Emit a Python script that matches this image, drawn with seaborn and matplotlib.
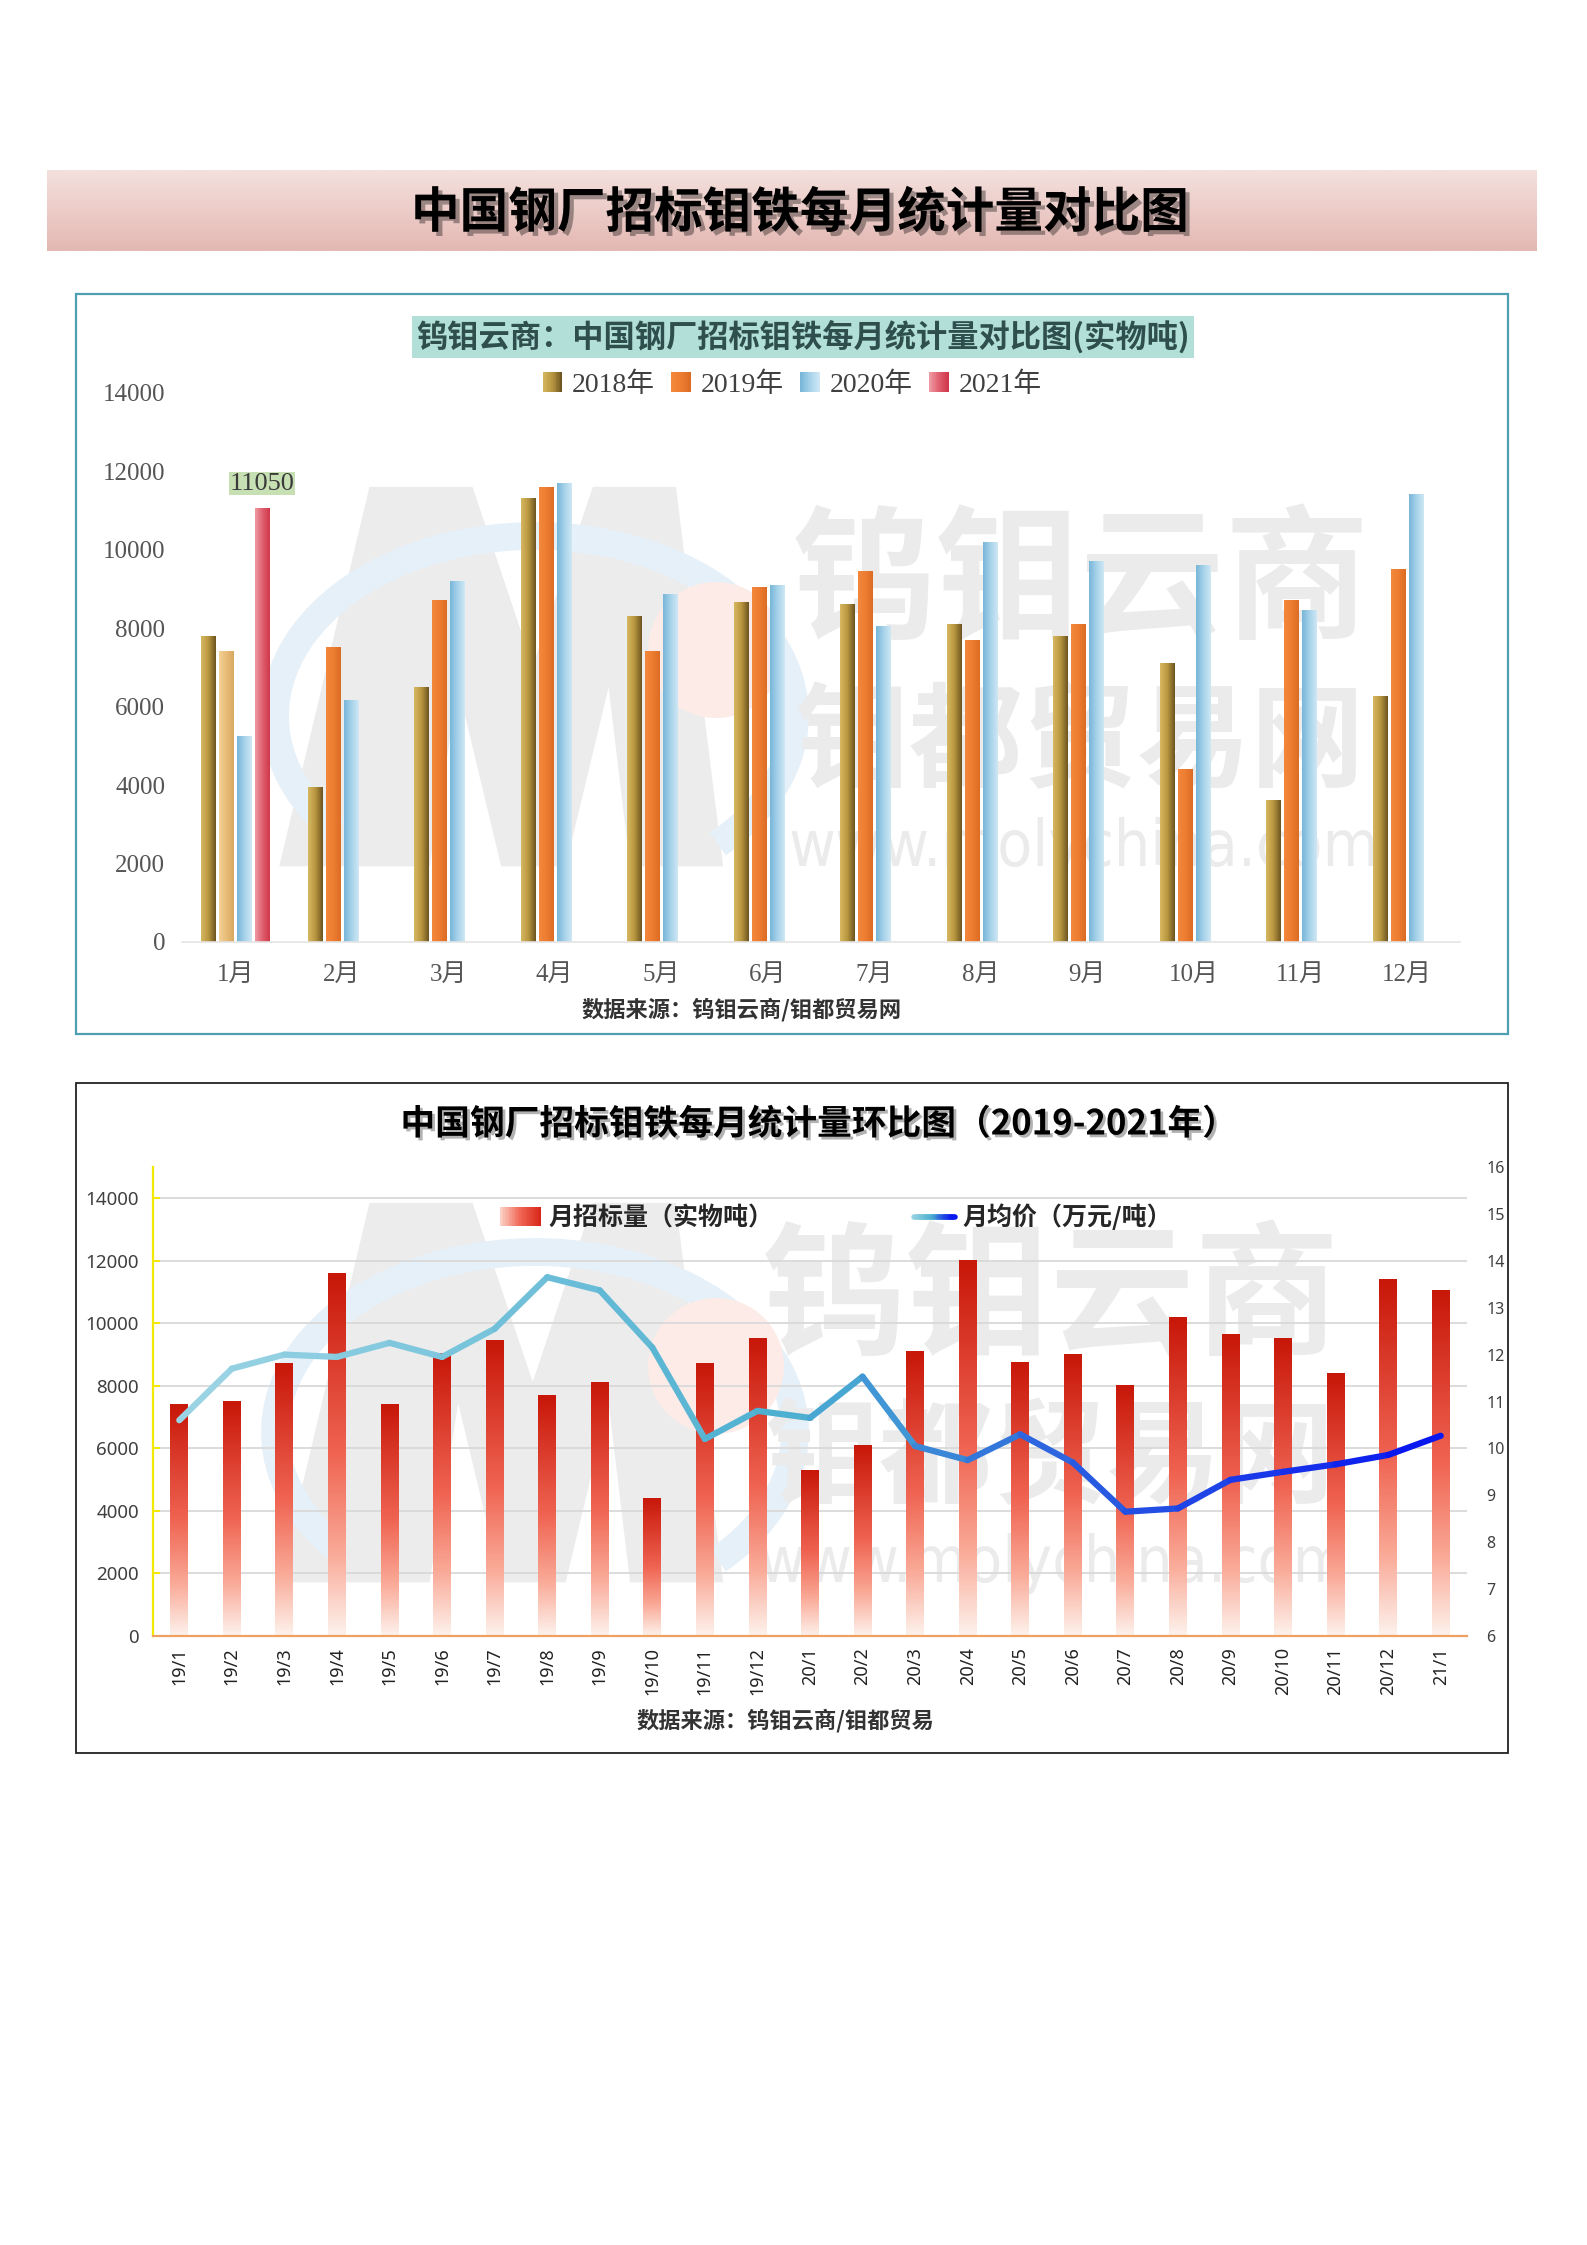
import matplotlib
matplotlib.use("Agg")

import matplotlib.pyplot as plt
import matplotlib.patheffects as pe
import numpy as np
import pandas as pd
import seaborn as sns
from matplotlib.collections import LineCollection
from matplotlib.colors import LinearSegmentedColormap
from matplotlib.legend_handler import HandlerBase
from matplotlib.patches import Arc, Circle, Polygon, Rectangle

# --------------------------------------------------------------------------- #
# Data
# --------------------------------------------------------------------------- #
MONTHS = ["1月", "2月", "3月", "4月", "5月", "6月",
          "7月", "8月", "9月", "10月", "11月", "12月"]
YEARS = ["2018年", "2019年", "2020年", "2021年"]
Y2018 = [7800, 3950, 6500, 11300, 8300, 8650, 8600, 8100, 7800, 7100, 3600, 6250]
Y2019 = [7400, 7500, 8700, 11600, 7400, 9050, 9450, 7700, 8100, 4400, 8700, 9500]
Y2020 = [5250, 6150, 9200, 11700, 8850, 9100, 8050, 10200, 9700, 9600, 8450, 11400]
Y2021 = [11050]

PERIODS = ["19/1", "19/2", "19/3", "19/4", "19/5", "19/6", "19/7", "19/8",
           "19/9", "19/10", "19/11", "19/12", "20/1", "20/2", "20/3", "20/4",
           "20/5", "20/6", "20/7", "20/8", "20/9", "20/10", "20/11", "20/12",
           "21/1"]
VOLUME = [7400, 7500, 8700, 11600, 7400, 9050, 9450, 7700, 8100, 4400, 8700,
          9500, 5300, 6100, 9100, 12000, 8750, 9000, 8000, 10200, 9650, 9500,
          8400, 11400, 11050]
PRICE = [10.6, 11.7, 12.0, 11.95, 12.25, 11.95, 12.55, 13.65, 13.37, 12.15,
         10.2, 10.8, 10.65, 11.53, 10.05, 9.75, 10.3, 9.7, 8.65, 8.72, 9.33,
         9.5, 9.66, 9.86, 10.27]

# --------------------------------------------------------------------------- #
# Style
# --------------------------------------------------------------------------- #
W, H = 1587, 2245
CJK = "Noto Sans CJK SC"
SERIF = ["Liberation Serif", CJK]
SANS = ["Noto Sans", CJK]

CMAP_2018 = LinearSegmentedColormap.from_list("g", ["#d6b860", "#b89640", "#6c5420"])
CMAP_2019 = LinearSegmentedColormap.from_list("o", ["#f3883c", "#ed7d31", "#dc6c24"])
CMAP_2019_JAN = LinearSegmentedColormap.from_list("t", ["#f4d296", "#e8bc78", "#d8a860"])
CMAP_2020 = LinearSegmentedColormap.from_list("b", ["#78b6d8", "#a6d2ea", "#cfe8f4"])
CMAP_2021 = LinearSegmentedColormap.from_list("r", ["#ee9aa2", "#e06070", "#d0384a"])
YEAR_CMAPS = dict(zip(YEARS, [CMAP_2018, CMAP_2019, CMAP_2020, CMAP_2021]))
CMAP_VOL = LinearSegmentedColormap.from_list(
    "v", [(0, "#fdf0ea"), (0.22, "#faaa98"), (0.5, "#f06452"), (1, "#c8180a")])
CMAP_PRICE = LinearSegmentedColormap.from_list(
    "p", [(0, "#9ad4e4"), (0.5, "#4aaed0"), (0.72, "#2a5ee0"), (1, "#0a18f0")])

# outline of the faint "M" logo in the watermark (shown-scale pixels)
M_LOGO = [(195, 605), (258, 340), (330, 340), (372, 465), (414, 340), (472, 340),
          (505, 605), (440, 605), (425, 480), (395, 605), (350, 605), (320, 480),
          (300, 605)]

sns.set_theme(style="white")
plt.rcParams["font.family"] = [CJK, "DejaVu Sans"]


def px_axes(fig, left, top, right, bottom):
    return fig.add_axes([left / W, 1 - bottom / H, (right - left) / W, (bottom - top) / H])


def fill_gradient(ax, bar, cmap, horizontal=True):
    x, y = bar.get_x(), bar.get_y()
    w, h = bar.get_width(), bar.get_height()
    grad = np.linspace(0, 1, 64)
    grad = grad.reshape(1, -1) if horizontal else grad.reshape(-1, 1)
    ax.imshow(grad, extent=[x, x + w, y, y + h], origin="lower", aspect="auto",
              cmap=cmap, zorder=2, interpolation="bilinear")
    bar.set_facecolor("none")
    bar.set_edgecolor("none")


class GradientHandler(HandlerBase):
    def __init__(self, cmap, horizontal=True, line=False):
        super().__init__()
        self.cmap, self.horizontal, self.line = cmap, horizontal, line

    def create_artists(self, legend, orig_handle, xdescent, ydescent, width,
                       height, fontsize, trans):
        n = 24
        if self.line:
            y = height / 2 - ydescent
            segs = [[(-xdescent + width * i / n, y), (-xdescent + width * (i + 1) / n, y)]
                    for i in range(n)]
            return [LineCollection(segs, colors=[self.cmap(i / (n - 1)) for i in range(n)],
                                   linewidths=4, capstyle="round", transform=trans)]
        arts = []
        for i in range(n):
            c = self.cmap(i / (n - 1))
            if self.horizontal:
                r = Rectangle((-xdescent + width * i / n, -ydescent), width / n * 1.1,
                              height, fc=c, ec="none", lw=0, transform=trans)
            else:
                r = Rectangle((-xdescent, -ydescent + height * i / n), width,
                              height / n * 1.1, fc=c, ec="none", lw=0, transform=trans)
            arts.append(r)
        return arts


fig = plt.figure(figsize=(W / 100, H / 100), dpi=100)
fig.patch.set_facecolor("white")

# background layer in pixel coordinates
bg = fig.add_axes([0, 0, 1, 1], zorder=0)
bg.set_xlim(0, W)
bg.set_ylim(H, 0)
bg.axis("off")

# banner
banner = np.linspace(0, 1, 64).reshape(-1, 1)
bg.imshow(banner, extent=[47, 1537, 251, 170], aspect="auto", zorder=1,
          cmap=LinearSegmentedColormap.from_list("bn", ["#f4e0dd", "#e4b8b3"]))
bg.text(800, 213, "中国钢厂招标钼铁每月统计量对比图", ha="center", va="center",
        fontsize=35, fontweight="bold", color="black", family=CJK, zorder=3,
        path_effects=[pe.SimplePatchShadow(offset=(3, -3), alpha=0.35), pe.Normal()])

# chart frames
bg.add_patch(Rectangle((76, 294), 1432, 740, fc="white", ec="#4f9fb2", lw=1.6, zorder=1))
bg.add_patch(Rectangle((76, 1083), 1432, 670, fc="white", ec="#222222", lw=1.3, zorder=1))


def watermark(dx, dy):
    s = 1.432
    bg.add_patch(Polygon([(x * s, y * s + dy) for x, y in M_LOGO], closed=True,
                         fc="#ececec", ec="none", zorder=2))
    bg.add_patch(Arc((535, 716 + dy), 520, 360, theta1=150, theta2=395,
                     color="#e6f0f9", lw=20, zorder=2))
    bg.add_patch(Circle((716, 650 + dy), 68, fc="#fcebe7", ec="none", zorder=2))
    bg.text(1081 + dx, 585 + dy, "钨钼云商", ha="center", va="center", fontsize=104,
            fontweight="bold", color="#ebebeb", family=CJK, zorder=2)
    bg.text(1081 + dx, 745 + dy, "钼都贸易网", ha="center", va="center", fontsize=82,
            fontweight="bold", color="#ebebeb", family=CJK, zorder=2)
    bg.text(1084 + dx, 848 + dy, "www.molychina.com", ha="center", va="center",
            fontsize=46, color="#ebebeb", family="DejaVu Sans", fontstretch="condensed",
            zorder=2)


watermark(0, 0)
watermark(-30, 716)

# --------------------------------------------------------------------------- #
# Chart 1 — monthly comparison by year
# --------------------------------------------------------------------------- #
rows = []
for year, vals in zip(YEARS, [Y2018, Y2019, Y2020, Y2021]):
    for m, v in zip(MONTHS, vals):
        rows.append({"month": m, "year": year, "value": v})
df1 = pd.DataFrame(rows)

ax1 = px_axes(fig, 182, 393, 1460, 942)
ax1.set_zorder(2)
ax1.patch.set_alpha(0)
sns.barplot(data=df1, x="month", y="value", hue="year", order=MONTHS,
            hue_order=YEARS, width=0.676, gap=0.2, errorbar=None, legend=False,
            palette=["#b89640", "#ed7d31", "#a6d2ea", "#e06070"], ax=ax1)
for year, container in zip(YEARS, ax1.containers):
    for i, bar in enumerate(container):
        cmap = CMAP_2019_JAN if (year == "2019年" and i == 0) else YEAR_CMAPS[year]
        fill_gradient(ax1, bar, cmap, horizontal=True)

jan21 = ax1.containers[3][0]
ax1.annotate(f"{Y2021[0]}", xy=(jan21.get_x() + jan21.get_width() / 2, Y2021[0]),
             xytext=(0, 14), textcoords="offset pixels", ha="center", va="bottom",
             fontsize=19, color="#3a3a3a", family=SERIF, annotation_clip=False,
             bbox=dict(fc="#c6e0b4", ec="none", pad=0.35))

ax1.set_xlim(-0.5, 11.5)
ax1.set_ylim(0, 14000)
ax1.set_yticks(range(0, 14001, 2000))
ax1.set_xlabel("")
ax1.set_ylabel("")
for side in ("top", "right", "left"):
    ax1.spines[side].set_visible(False)
ax1.spines["bottom"].set_color("#e4e4e4")
ax1.spines["bottom"].set_linewidth(1.2)
ax1.tick_params(axis="both", length=0, labelcolor="#555555", labelsize=18)
ax1.tick_params(axis="y", pad=12)
ax1.tick_params(axis="x", pad=16)
for lab in ax1.get_xticklabels() + ax1.get_yticklabels():
    lab.set_family(SERIF)

bg.text(803, 337, "钨钼云商：中国钢厂招标钼铁每月统计量对比图(实物吨)", ha="center",
        va="center", fontsize=22.5, fontweight="bold", color="#2f4f4f", family=CJK,
        zorder=3, bbox=dict(fc="#b2e0d9", ec="none", pad=3))

h1 = [Rectangle((0, 0), 1, 1) for _ in YEARS]
leg1 = fig.legend(h1, YEARS, loc="center", bbox_to_anchor=(792 / W, 1 - 385 / H),
                  ncol=4, frameon=False, handlelength=0.7, handleheight=0.7,
                  handletextpad=0.35, columnspacing=0.6, borderaxespad=0,
                  prop={"family": SERIF, "size": 20},
                  handler_map={h: GradientHandler(YEAR_CMAPS[y]) for h, y in zip(h1, YEARS)})
for t in leg1.get_texts():
    t.set_color("#404040")

bg.text(742, 1010, "数据来源：钨钼云商/钼都贸易网", ha="center", va="center",
        fontsize=16, fontweight="bold", color="#333333", family=CJK, zorder=3)

# --------------------------------------------------------------------------- #
# Chart 2 — volume bars and average price line
# --------------------------------------------------------------------------- #
df2 = pd.DataFrame({"period": PERIODS, "volume": VOLUME, "price": PRICE})

ax2 = px_axes(fig, 153, 1167, 1467, 1636)
ax2.set_zorder(2)
ax2.patch.set_alpha(0)
sns.barplot(data=df2, x="period", y="volume", width=0.34, color="#e04030",
            errorbar=None, ax=ax2)
for bar in ax2.containers[0]:
    fill_gradient(ax2, bar, CMAP_VOL, horizontal=False)

ax2.set_xlim(-0.5, len(PERIODS) - 0.5)
ax2.set_ylim(0, 15000)
ax2.set_yticks(range(0, 14001, 2000))
ax2.yaxis.grid(True, color="#d9d9d9", lw=1.3)
ax2.set_axisbelow(True)
ax2.set_xlabel("")
ax2.set_ylabel("")
ax2.spines["top"].set_visible(False)
ax2.spines["right"].set_visible(False)
ax2.spines["left"].set_color("#f5e800")
ax2.spines["left"].set_linewidth(1.6)
ax2.spines["bottom"].set_color("#f0a060")
ax2.spines["bottom"].set_linewidth(1.6)
ax2.tick_params(axis="y", direction="in", length=5, width=1.4, color="#f5e800",
                labelsize=13.5, labelcolor="#404040", pad=10)
ax2.tick_params(axis="x", length=0, labelsize=13, labelcolor="#222222",
                rotation=90, pad=8)
ax2.set_xticks(np.arange(-0.5, len(PERIODS), 1.0), minor=True)
ax2.tick_params(axis="x", which="minor", direction="out", length=9, width=1.4,
                color="#f0a060")
for lab in ax2.get_xticklabels() + ax2.get_yticklabels():
    lab.set_family(SANS)

ax3 = ax2.twinx()
ax3.set_ylim(6, 16)
ax3.set_yticks(range(6, 17))
for side in ("top", "right", "left", "bottom"):
    ax3.spines[side].set_visible(False)
ax3.tick_params(axis="y", length=0, labelsize=11.5, labelcolor="#404040", pad=14)
for lab in ax3.get_yticklabels():
    lab.set_family(SANS)
pts = np.column_stack([np.arange(len(PRICE)), df2["price"].to_numpy()])
segs = np.stack([pts[:-1], pts[1:]], axis=1)
seg_colors = [CMAP_PRICE(i / (len(segs) - 1)) for i in range(len(segs))]
ax3.add_collection(LineCollection(segs, colors=seg_colors, linewidths=4.5,
                                  capstyle="round", joinstyle="round", zorder=3))

bg.text(819, 1124, "中国钢厂招标钼铁每月统计量环比图（2019-2021年）", ha="center",
        va="center", fontsize=25, fontweight="bold", color="black", family=CJK,
        zorder=3, path_effects=[pe.SimplePatchShadow(offset=(2, -2), alpha=0.3), pe.Normal()])

h_bar, h_line = Rectangle((0, 0), 1, 1), Rectangle((0, 0), 1, 1)
cmap_patch = LinearSegmentedColormap.from_list("lp", ["#fbd0c4", "#f06452", "#d8281a"])
leg2 = fig.legend([h_bar, h_line], ["月招标量（实物吨）", "月均价（万元/吨）"],
                  loc="center", bbox_to_anchor=(836 / W, 1 - 1217 / H), ncol=2,
                  frameon=False, handlelength=1.65, handleheight=0.8,
                  handletextpad=0.3, columnspacing=5.6, borderaxespad=0,
                  prop={"family": CJK, "size": 18, "weight": "bold"},
                  handler_map={h_bar: GradientHandler(cmap_patch),
                               h_line: GradientHandler(CMAP_PRICE, line=True)})

bg.text(785, 1721, "数据来源：钨钼云商/钼都贸易", ha="center", va="center",
        fontsize=16, fontweight="bold", color="#333333", family=CJK, zorder=3)

fig.savefig("out.png", dpi=100)
